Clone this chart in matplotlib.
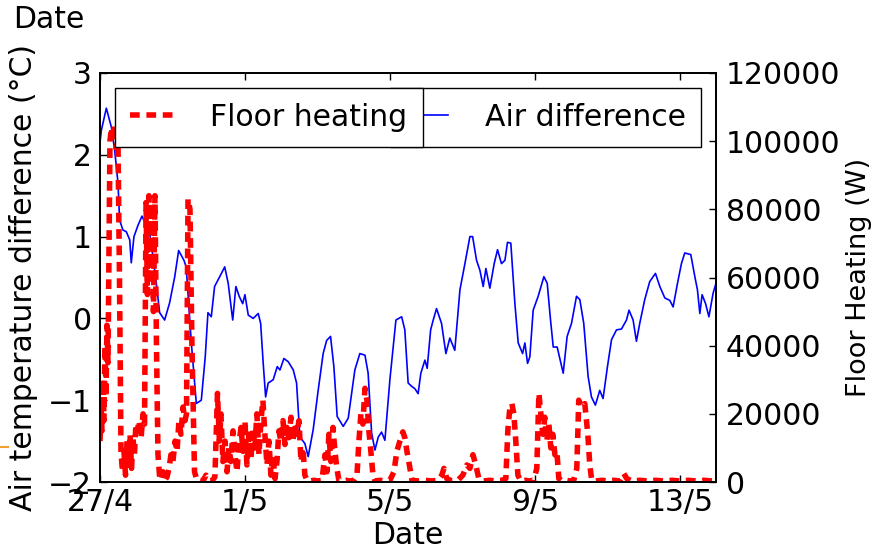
import matplotlib
matplotlib.use('Agg')
import matplotlib.pyplot as plt
from matplotlib.lines import Line2D
import numpy as np

plt.rcParams['font.family'] = 'DejaVu Sans'
plt.rcParams['lines.scale_dashes'] = False

# hours after 27/4 00:00 and air temperature difference (degC)
air_hours = [0, 0.9, 4.2, 7.5, 9.7, 11.9, 13.0, 15.2, 17.4, 19.7,
             20.7, 22.5, 25.2, 27.8, 29.6, 32.9, 35.1, 37.3, 39.5, 42.8,
             46.1, 49.5, 52.1, 55.6, 57.1, 60.5, 63.8, 67.1, 69.7, 71.5,
             73.7, 75.9, 79.3, 82.6, 84.9, 87.9, 90.0, 92.2, 94.5, 96.0,
             98.2, 101.5, 104.8, 106.4, 108.1, 109.7, 111.4, 114.7, 117.4, 119.2,
             121.8, 124.7, 128.0, 130.2, 132.4, 135.7, 137.9, 141.2, 144.5, 147.8,
             150.1, 152.7, 154.9, 157.1, 161.1, 164.4, 168.8, 172.1, 175.5, 177.6,
             179.9, 182.1, 184.3, 186.5, 188.7, 192.0, 196.0, 199.8, 201.9, 204.1,
             206.4, 208.6, 210.7, 212.5, 215.2, 216.7, 219.0, 220.7, 222.9, 226.2,
             229.1, 231.7, 235.0, 238.4, 241.7, 245.0, 246.8, 249.4, 251.6, 253.8,
             255.6, 258.2, 261.1, 263.3, 265.9, 268.2, 269.9, 272.1, 274.8, 277.0,
             279.9, 281.4, 283.2, 284.7, 286.9, 290.2, 294.0, 296.2, 298.4, 300.2,
             302.8, 306.8, 309.4, 312.3, 315.6, 317.8, 320.4, 323.3, 325.5, 328.1,
             331.0, 333.2, 336.1, 338.8, 342.1, 345.4, 348.7, 350.4, 353.1, 355.3,
             357.5, 360.8, 364.1, 367.9, 370.8, 374.1, 377.4, 379.6, 382.5, 385.1,
             387.3, 391.3, 394.0, 395.7, 397.3, 398.8, 401.1, 403.3, 406.1, 408.0]
air_diff = [2.15, 2.30, 2.57, 2.34, 2.06, 1.66, 1.20, 1.08, 1.06, 0.96,
            0.68, 1.00, 1.14, 1.25, 1.18, 1.04, 0.75, 0.43, 0.07, -0.02,
            0.19, 0.51, 0.83, 0.71, 0.63, -0.30, -1.04, -1.00, -0.47, 0.07,
            0.02, 0.39, 0.51, 0.63, 0.43, -0.02, 0.39, 0.27, 0.18, 0.29,
            0.04, 0.00, 0.06, -0.06, -0.55, -0.96, -0.79, -0.75, -0.59, -0.63,
            -0.49, -0.53, -0.63, -0.79, -1.45, -1.53, -1.69, -1.36, -0.88, -0.43,
            -0.27, -0.22, -0.59, -1.20, -1.32, -1.22, -0.63, -0.43, -0.45, -0.67,
            -1.40, -1.61, -1.45, -1.39, -1.49, -0.75, -0.02, 0.02, -0.14, -0.79,
            -0.83, -0.86, -0.92, -0.67, -0.51, -0.61, -0.14, -0.02, 0.12, -0.06,
            -0.43, -0.24, -0.39, 0.35, 0.67, 1.00, 1.00, 0.71, 0.59, 0.39,
            0.61, 0.37, 0.67, 0.84, 0.67, 0.71, 0.93, 0.92, 0.18, -0.30,
            -0.43, -0.30, -0.55, -0.47, 0.10, 0.27, 0.51, 0.43, -0.02, -0.35,
            -0.35, -0.67, -0.22, -0.06, 0.27, 0.23, -0.06, -0.71, -0.96, -1.06,
            -0.88, -0.98, -0.59, -0.26, -0.14, -0.13, -0.02, 0.10, -0.02, -0.28,
            -0.06, 0.23, 0.45, 0.55, 0.39, 0.25, 0.22, 0.14, 0.43, 0.67,
            0.80, 0.78, 0.51, 0.35, 0.06, 0.29, 0.18, 0.02, 0.31, 0.43]

# hours after 27/4 00:00 and floor heating power (W)
floor_hours = [0, 0.7, 1.3, 2.0, 2.6, 3.3, 4.0, 4.6, 5.3, 6.0,
               6.6, 7.6, 8.6, 9.6, 10.6, 11.9, 12.9, 13.9, 14.9, 15.9,
               16.9, 17.9, 18.9, 19.9, 20.9, 21.8, 22.8, 23.8, 24.8, 25.8,
               27.2, 28.5, 29.5, 30.5, 31.4, 32.4, 33.4, 34.4, 35.4, 36.4,
               37.4, 38.4, 39.4, 40.4, 41.7, 43.0, 44.4, 45.7, 47.0, 48.3,
               49.7, 51.0, 52.3, 53.6, 55.0, 56.3, 57.3, 58.3, 59.6, 60.9,
               62.6, 64.2, 66.2, 68.2, 70.2, 72.2, 74.2, 76.1, 77.8, 79.1,
               80.1, 81.4, 82.8, 84.1, 85.4, 86.7, 88.1, 89.4, 90.7, 92.0,
               93.4, 94.7, 96.0, 97.3, 98.7, 100.0, 101.3, 102.6, 103.9, 105.3,
               106.6, 107.9, 109.2, 110.6, 111.9, 113.2, 114.5, 115.9, 117.2, 118.5,
               119.8, 121.2, 122.5, 123.8, 125.1, 126.5, 127.8, 129.1, 130.4, 131.8,
               133.1, 134.4, 135.7, 137.1, 139.0, 141.7, 144.3, 147.0, 149.0, 150.3,
               151.6, 152.9, 154.3, 155.6, 156.9, 158.2, 160.2, 162.9, 165.5, 168.2,
               170.2, 171.5, 172.8, 174.1, 175.5, 176.8, 178.1, 179.4, 180.8, 182.1,
               185.4, 188.7, 192.0, 194.7, 196.6, 198.6, 200.6, 201.9, 203.3, 205.3,
               206.6, 210.5, 215.2, 219.8, 223.8, 226.4, 227.8, 229.7, 233.1, 237.0,
               240.3, 243.0, 245.0, 247.0, 248.9, 250.9, 254.2, 258.2, 262.2, 266.2,
               268.8, 270.1, 271.5, 272.8, 274.1, 275.4, 276.8, 278.7, 281.4, 284.7,
               287.3, 289.3, 290.7, 292.0, 293.3, 294.6, 295.9, 297.3, 298.6, 299.9,
               301.3, 302.6, 303.9, 305.9, 308.5, 311.2, 313.8, 315.8, 317.1, 319.1,
               321.1, 323.1, 324.4, 325.7, 328.4, 332.4, 336.3, 340.3, 344.3, 346.9,
               348.9, 352.2, 357.5, 362.9, 368.1, 373.5, 378.8, 384.1, 389.4, 394.7,
               400.0, 405.3, 408.0]
floor_watts = [12000, 22000, 15000, 30000, 18000, 40000, 25000, 46000, 35000, 70000,
               100000, 104000, 100000, 105000, 98000, 100000, 60000, 9000, 3000, 9000,
               2000, 12000, 5000, 14000, 4000, 13000, 8000, 17000, 15000, 18000,
               13000, 20000, 17000, 82000, 55000, 84000, 60000, 82000, 50000, 84000,
               40000, 8000, 2000, 500, 3000, 500, 1500, 4000, 8000, 6000,
               12000, 9000, 18000, 14000, 22000, 18000, 20000, 83000, 80000, 40000,
               3000, 500, 500, 300, 2000, 500, 300, 1500, 26000, 12000,
               20000, 6000, 12000, 3000, 10000, 6000, 15000, 8000, 3000, 11000,
               16000, 9000, 18000, 5000, 14000, 7000, 16000, 10000, 20000, 8000,
               18000, 24000, 14000, 5000, 12000, 2000, 8000, 1000, 6000, 15000,
               12000, 18000, 11000, 16000, 13000, 19000, 12000, 17000, 14000, 18000,
               6000, 10000, 2000, 500, 300, 500, 300, 500, 8000, 3000,
               14000, 6000, 16000, 9000, 4000, 500, 300, 500, 300, 500,
               2000, 12000, 20000, 17000, 27500, 24000, 15000, 9000, 2000, 300,
               500, 300, 500, 3000, 9000, 12000, 14700, 13000, 9000, 4000,
               500, 300, 500, 300, 500, 2000, 4000, 1000, 300, 500,
               2000, 5000, 4000, 8000, 5000, 1000, 300, 500, 300, 500,
               1000, 15000, 22000, 23000, 20000, 12000, 2000, 300, 500, 300,
               500, 4000, 26000, 20000, 14000, 19000, 12000, 17000, 10000, 14000,
               8000, 9000, 1000, 300, 500, 300, 500, 4000, 24000, 22000,
               23000, 14000, 5000, 500, 300, 500, 300, 500, 300, 2500,
               1000, 300, 500, 300, 500, 300, 500, 300, 500, 300,
               500, 300, 500]

day_ticks = [0, 4, 8, 12, 16]
day_labels = ['27/4', '1/5', '5/5', '9/5', '13/5']
temp_ticks = [-2, -1, 0, 1, 2, 3]
power_ticks = [0, 20000, 40000, 60000, 80000, 100000, 120000]

fs = 21.5

fig = plt.figure(figsize=(8.75, 5.55), dpi=100)
ax1 = fig.add_axes([100 / 875, 1 - 482 / 555, 616 / 875, 409 / 555])
ax2 = ax1.twinx()

ax1.plot(np.array(air_hours) / 24, air_diff, color='b', lw=1.2,
         label='Air difference')
ax2.plot(np.array(floor_hours) / 24, floor_watts, color='r', lw=4,
         dashes=(7, 4.8), label='Floor heating')

ax1.set_xlim(0, 17)
ax1.set_ylim(-2, 3)
ax2.set_ylim(0, 120000)
ax1.set_xticks(day_ticks)
ax1.set_xticklabels(day_labels)
ax1.set_yticks(temp_ticks)
ax2.set_yticks(power_ticks)

ax1.tick_params(axis='both', direction='in', labelsize=fs, length=5, width=1)
ax1.tick_params(axis='x', top=True, pad=4)
ax1.tick_params(axis='y', pad=6)
ax2.tick_params(axis='y', direction='in', labelsize=fs, length=5, width=1, pad=7)
for ax in (ax1, ax2):
    for sp in ax.spines.values():
        sp.set_linewidth(1.3)

ax1.set_xlabel('Date', fontsize=fs, labelpad=3)
ax1.set_ylabel('Air temperature difference (°C)', fontsize=fs, labelpad=7)
ax2.set_ylabel('Floor Heating (W)', fontsize=19.5, labelpad=4)

leg_kw = dict(fontsize=fs, borderpad=0.5, handlelength=1.45, handletextpad=1.25,
              borderaxespad=0.5, fancybox=False, framealpha=1, edgecolor='black')
leg_air = ax1.legend(loc='upper right', **leg_kw)
leg_floor = ax2.legend(loc='upper left', **leg_kw)
for leg in (leg_air, leg_floor):
    leg.get_frame().set_linewidth(1.0)

fig.text(13 / 875, 1 - 5 / 555, 'Date', fontsize=fs, ha='left', va='top')
fig.add_artist(Line2D([0, 8 / 875], [1 - 447 / 555] * 2, color='#f0a030', lw=1.5))

fig.savefig('out.png', dpi=100, facecolor='white')
